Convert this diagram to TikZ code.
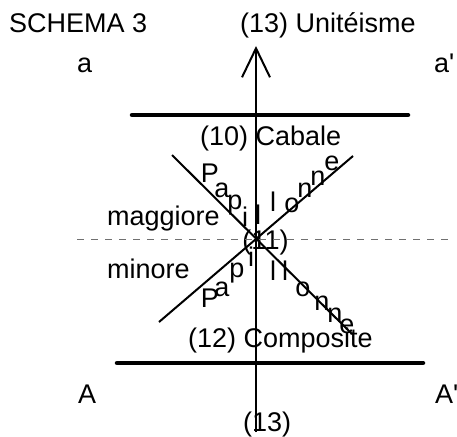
\documentclass[tikz,border=0pt]{standalone}
\usepackage{fontspec}
\setmainfont{Liberation Sans}
\usetikzlibrary{arrows.meta}
\definecolor{midgray}{RGB}{112,112,112}

\begin{document}
\begin{tikzpicture}[
    x=1pt,y=-1pt,
    every node/.style={inner sep=0pt,font=\fontsize{27}{32}\selectfont},
    lbl/.style={anchor=base west},
    bar/.style={line width=4.5pt,line cap=round},
    ray/.style={line width=2pt},
    axis/.style={line width=2pt,-{Straight Barb[length=29pt,width=28pt,line width=2pt]}},
    midline/.style={draw=midgray,line width=1pt,dash pattern=on 7pt off 7pt}
  ]
    \useasboundingbox (0,0) rectangle (457,436);

    % labels
    \node[lbl] (title) at (9,33) {SCHEMA 3};
    \node[lbl] (unit) at (240,33) {(13) Unitéisme};
    \node[lbl] (la) at (77,72) {a};
    \node[lbl] (lap) at (434,72) {a\textquotesingle};
    \node[lbl] (cabale) at (200,145) {(10) Cabale};
    \node[lbl] (magg) at (107,225) {maggiore};
    \node[lbl] (mino) at (107,278) {minore};
    \node (centre) at (265.5,243) {(11)};
    \node[lbl] (compo) at (188,347) {(12) Composite};
    \node[lbl] (lA) at (78,403) {A};
    \node[lbl] (lAp) at (435,403) {A\textquotesingle};
    \node[lbl] (low) at (243,431) {(13)};

    % papillonne, upper wing
    \node (u1) at (210,173) {P};
    \node (u2) at (222,190) {a};
    \node (u3) at (235,205) {p};
    \node (u4) at (245,217) {i};
    \node (u5) at (258,215) {l};
    \node (u6) at (273,202) {l};
    \node (u7) at (292,205) {o};
    \node (u8) at (305,190) {n};
    \node (u9) at (318,178) {n};
    \node (u10) at (332,163) {e};

    % papillonne, lower wing
    \node (d1) at (210,298) {P};
    \node (d2) at (222,289) {a};
    \node (d3) at (237,273) {p};
    \node (d4) at (251,257) {i};
    \node (d5) at (273,271) {l};
    \node (d6) at (285,271) {l};
    \node (d7) at (303,289) {o};
    \node (d8) at (322,303) {n};
    \node (d9) at (335,315) {n};
    \node (d10) at (347,326) {e};

    \coordinate (topl) at (132,115);
    \coordinate (topr) at (408,115);
    \coordinate (botl) at (117,363);
    \coordinate (botr) at (423,363);
    \coordinate (midl) at (77,239);
    \coordinate (midr) at (452,239);
    \coordinate (tip) at (256,46);
    \coordinate (foot) at (256,432);
    \coordinate (nw) at (172,155);
    \coordinate (se) at (352,334);
    \coordinate (sw) at (159,322);
    \coordinate (ne) at (353,156);

    \draw[midline] (midl) -- (midr);
    \draw[bar] (topl) -- (topr);
    \draw[bar] (botl) -- (botr);
    \draw[ray] (nw) -- (se);
    \draw[ray] (sw) -- (ne);
    \draw[axis] (foot) -- (tip);
  \end{tikzpicture}
\end{document}
